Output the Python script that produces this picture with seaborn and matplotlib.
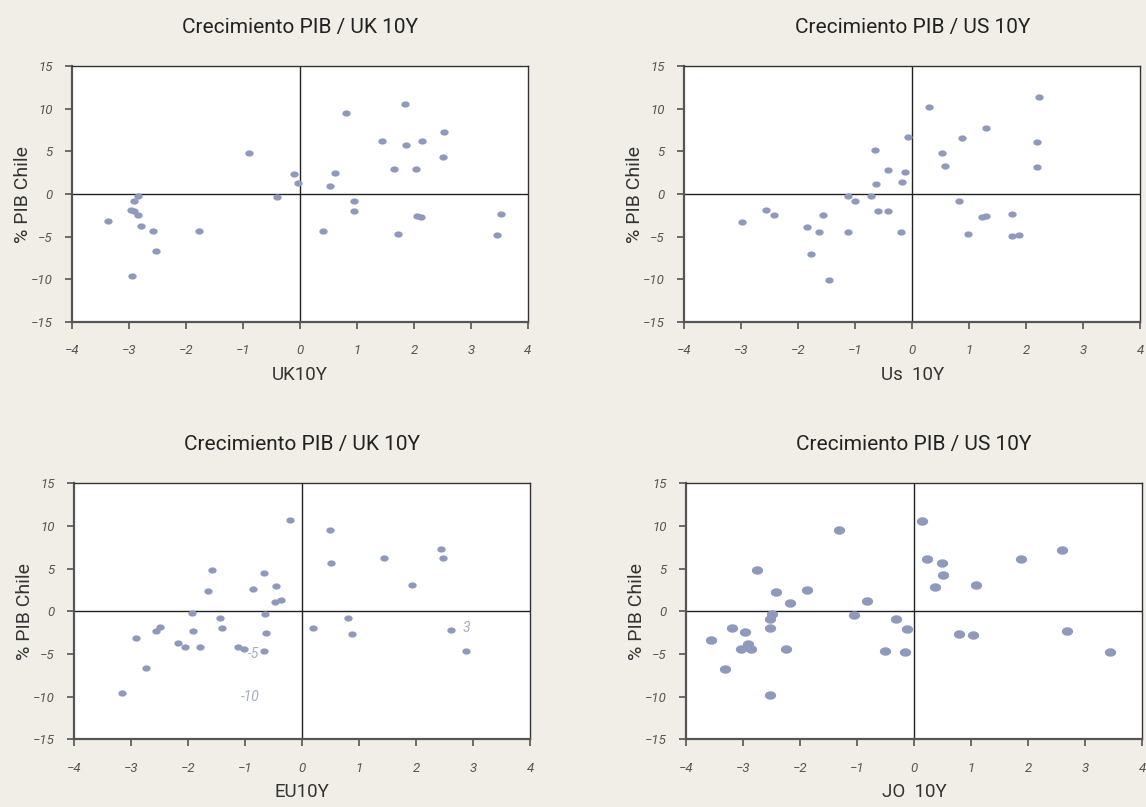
import numpy as np
import pandas as pd
import seaborn as sns
import matplotlib.pyplot as plt

# Data
uk_x = [1.84, 0.80, 2.53, 1.43, 1.86, 2.14, 2.50, -0.90, -0.10, -0.04, 0.62, 0.53, 1.64, 2.04,
        -0.40, 0.94, 0.95, 2.05, 2.12, 3.53, 0.40, 1.72, 3.45, -2.85, -2.91, -2.97, -2.91, -2.84,
        -3.37, -2.79, -2.58, -1.77, -2.53, -2.94]
uk_y = [10.6, 9.5, 7.3, 6.2, 5.7, 6.2, 4.4, 4.8, 2.4, 1.25, 2.5, 1.0, 3.0, 2.9,
        -0.35, -0.86, -2.0, -2.6, -2.7, -2.3, -4.3, -4.65, -4.77, -0.27, -0.86, -1.9, -2.0, -2.4,
        -3.2, -3.8, -4.3, -4.3, -6.7, -9.65]

us_x = [2.22, 0.29, 1.29, 0.87, -0.08, 2.18, -0.66, 0.52, 0.57, 2.19, -0.43, -0.12, -0.18, -0.64,
        -1.12, -0.73, -1.00, 0.81, -2.56, -2.42, -1.56, -0.61, -0.42, 1.22, 1.30, 1.75,
        -2.99, -1.84, -1.63, -1.13, -0.19, 0.98, 1.75, 1.87, -1.78, -1.46]
us_y = [11.4, 10.2, 7.8, 6.6, 6.7, 6.1, 5.2, 4.8, 3.3, 3.2, 2.8, 2.6, 1.45, 1.2,
        -0.27, -0.23, -0.86, -0.86, -1.9, -2.4, -2.4, -2.0, -2.0, -2.7, -2.6, -2.3,
        -3.3, -3.9, -4.45, -4.45, -4.45, -4.7, -4.9, -4.85, -7.0, -10.1]

eu_x = [-0.22, 0.49, 2.44, 2.47, 1.44, 0.50, -1.58, -0.67, 1.93, -1.65, -0.86, -0.46, -0.48, -0.38,
        -1.94, -0.65, -1.45, 0.80, -1.40, 0.18, -2.57, -2.50, -1.91, -0.64, 0.87, 2.60,
        -2.92, -2.18, -2.05, -1.80, -1.13, -1.02, -0.67, 2.87, -2.75, -3.17]
eu_y = [10.7, 9.6, 7.3, 6.25, 6.3, 5.7, 4.9, 4.45, 3.1, 2.4, 2.65, 3.0, 1.05, 1.37,
        -0.2, -0.3, -0.8, -0.8, -1.95, -1.95, -2.3, -1.85, -2.25, -2.5, -2.6, -2.2,
        -3.1, -3.7, -4.2, -4.2, -4.2, -4.45, -4.6, -4.65, -6.6, -9.55]

jo_x = [0.14, -1.32, 2.60, 0.22, 0.49, 1.87, -2.76, 0.51, -2.43, -1.87, 0.36, 1.09, -2.18, -0.83,
        -2.50, -2.53, -1.05, -0.32, -3.19, -2.96, -2.53, -0.13, 0.79, 1.04, 2.69,
        -3.56, -2.91, -3.04, -2.86, -2.25, -0.51, -0.16, 3.44, -3.32, -2.53]
jo_y = [10.6, 9.5, 7.2, 6.2, 5.65, 6.1, 4.8, 4.3, 2.3, 2.5, 2.9, 3.05, 0.94, 1.2,
        -0.27, -0.9, -0.4, -0.9, -2.0, -2.4, -2.0, -2.07, -2.66, -2.77, -2.34,
        -3.3, -3.8, -4.4, -4.4, -4.4, -4.65, -4.77, -4.8, -6.76, -9.77]

# stray labels left inside the EU panel
eu_notes = ["-5", "-10", "3"]
eu_notes_x = [-0.85, -0.91, 2.87]
eu_notes_y = [-5.0, -10.0, -1.9]

titles = ["Crecimiento PIB / UK 10Y", "Crecimiento PIB / US 10Y",
          "Crecimiento PIB / UK 10Y", "Crecimiento PIB / US 10Y"]
xlabels = ["UK10Y", "Us  10Y", "EU10Y", "JO  10Y"]

BG = "#f1eee7"
DOT = "#8f99bc"

sns.set_theme(style="white")
plt.rcParams["font.family"] = ["Roboto", "DejaVu Sans"]

# slightly flattened dot, like the original
t = np.linspace(0, 2 * np.pi, 40)
ellipse = list(zip(np.cos(t), 0.75 * np.sin(t)))

fig = plt.figure(figsize=(11.46, 8.07), dpi=100, facecolor=BG)
boxes = [
    [0.0628, 0.601, 0.398, 0.317],
    [0.5971, 0.601, 0.398, 0.317],
    [0.0648, 0.0839, 0.398, 0.317],
    [0.5986, 0.0839, 0.398, 0.317],
]
series = [(uk_x, uk_y, 36), (us_x, us_y, 36), (eu_x, eu_y, 36), (jo_x, jo_y, 66)]

for i, (box, (xs, ys, size)) in enumerate(zip(boxes, series)):
    ax = fig.add_axes(box)
    ax.set_facecolor("white")
    df = pd.DataFrame({"x": xs, "y": ys})
    ax.axhline(0, color="#222222", lw=1, zorder=1)
    ax.axvline(0, color="#222222", lw=1, zorder=1)
    sns.scatterplot(data=df, x="x", y="y", ax=ax, color=DOT, s=size,
                    marker=ellipse, linewidth=0, zorder=3, legend=False)
    ax.set_xlim(-4, 4)
    ax.set_ylim(-15, 15)
    ax.set_xticks(range(-4, 5))
    ax.set_yticks(range(-15, 16, 5))
    ax.tick_params(axis="both", direction="out", length=5, width=1.2, color="#555555",
                   labelsize=9.5, labelcolor="#555555", left=True, bottom=True)
    ax.tick_params(axis="x", pad=11)
    ax.tick_params(axis="y", pad=9)
    for lab in ax.get_xticklabels() + ax.get_yticklabels():
        lab.set_fontstyle("italic")
    for side in ["left", "bottom"]:
        ax.spines[side].set_color("#555555")
        ax.spines[side].set_linewidth(1.6)
    for side in ["top", "right"]:
        ax.spines[side].set_color("#333333")
        ax.spines[side].set_linewidth(1.0)
    ax.set_title(titles[i], fontsize=15, color="#222222", pad=24)
    ax.set_xlabel(xlabels[i], fontsize=13.5, color="#333333", labelpad=6)
    ax.set_ylabel("% PIB Chile", fontsize=14, color="#333333", labelpad=-1)

    if i == 2:
        for txt, tx, ty in zip(eu_notes, eu_notes_x, eu_notes_y):
            ax.text(tx, ty, txt, fontsize=10, style="italic", color="#a6abc6",
                    ha="center", va="center", zorder=4)

fig.savefig("out.png", dpi=100, facecolor=BG)
